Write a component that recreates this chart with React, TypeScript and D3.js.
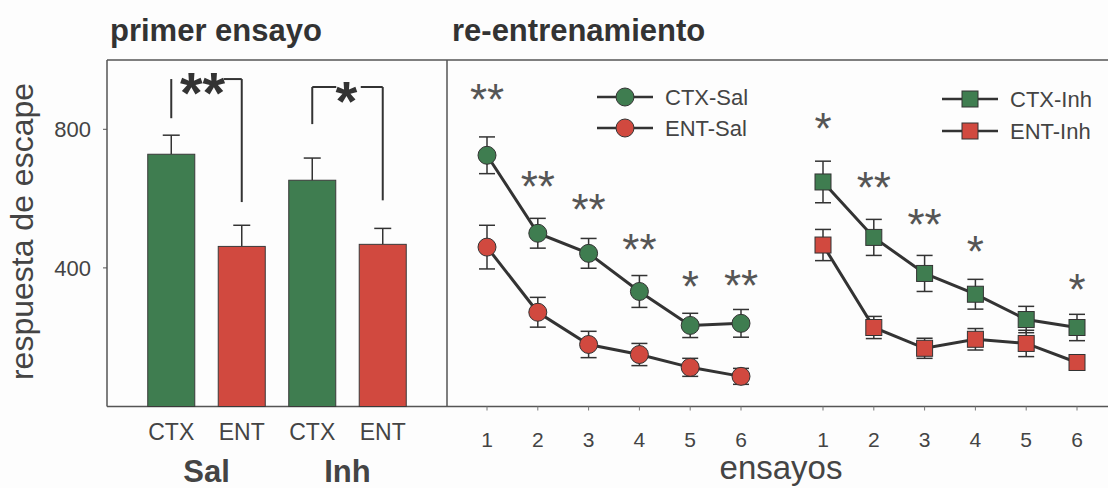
import React from "react";
import * as d3 from "d3";

// ---------- data ----------
const barKeys = ["CTX-Sal", "ENT-Sal", "CTX-Inh", "ENT-Inh"];
const barLabels = ["CTX", "ENT", "CTX", "ENT"];
const barValues = [728, 462, 653, 468];
const barErrors = [55, 61, 64, 46];
const barGroups = ["Sal", "Inh"];
const yTicks = [400, 800];

const ensayos = [1, 2, 3, 4, 5, 6];
const ctxSal = [725, 500, 442, 332, 234, 240];
const ctxSalErr = [53, 43, 43, 46, 35, 40];
const entSal = [460, 272, 179, 150, 113, 87];
const entSalErr = [63, 43, 38, 32, 26, 23];
const ctxInh = [648, 488, 384, 324, 251, 228];
const ctxInhErr = [60, 52, 52, 43, 38, 38];
const entInh = [466, 228, 168, 194, 182, 127];
const entInhErr = [45, 32, 29, 31, 38, 20];

const starsSal = [
  { t: 1, label: "**", at: 913 },
  { t: 2, label: "**", at: 662 },
  { t: 3, label: "**", at: 595 },
  { t: 4, label: "**", at: 480 },
  { t: 5, label: "*", at: 373 },
  { t: 6, label: "**", at: 377 },
];
const starsInh = [
  { t: 1, label: "*", at: 830 },
  { t: 2, label: "**", at: 659 },
  { t: 3, label: "**", at: 552 },
  { t: 4, label: "*", at: 474 },
  { t: 6, label: "*", at: 364 },
];

const brackets = [
  { a: "CTX-Sal", b: "ENT-Sal", label: "**", top: 945, aEnd: 832, bEnd: 590, gapL: 6, gapR: 18 },
  { a: "CTX-Inh", b: "ENT-Inh", label: "*", top: 922, aEnd: 815, bEnd: 595, gapL: 24, gapR: 22 },
];

// ---------- style ----------
const GREEN = "#3f7d50";
const RED = "#d1493f";
const DARK = "#333333";
const TXT = "#444444";
const FONT = "'Liberation Sans', Arial, Helvetica, sans-serif";

export default function App() {
  const W = 1108;
  const H = 488;
  const left = 107;
  const divider = 447;
  const right = 1108;
  const y = d3.scaleLinear().domain([0, 1000]).range([406.5, 60]);
  const xb = d3
    .scaleBand<string>()
    .domain(barKeys)
    .range([left, divider])
    .paddingInner(0.333)
    .paddingOuter(0.578);
  const bw = xb.bandwidth();
  const cx = (k: string) => (xb(k) as number) + bw / 2;

  const xSal = d3.scaleLinear().domain([1, 6]).range([487, 741]);
  const xInh = d3.scaleLinear().domain([1, 6]).range([823, 1077]);

  const mkPts = (vals: number[], errs: number[]) =>
    ensayos.map((t, i) => ({ t, v: vals[i], e: errs[i] }));

  const series = [
    { name: "CTX-Sal", pts: mkPts(ctxSal, ctxSalErr), x: xSal, color: GREEN, shape: "circle" },
    { name: "ENT-Sal", pts: mkPts(entSal, entSalErr), x: xSal, color: RED, shape: "circle" },
    { name: "CTX-Inh", pts: mkPts(ctxInh, ctxInhErr), x: xInh, color: GREEN, shape: "square" },
    { name: "ENT-Inh", pts: mkPts(entInh, entInhErr), x: xInh, color: RED, shape: "square" },
  ];

  const R = 9;
  const S = 16;
  const cap = 8;

  const marker = (shape: string, x: number, yy: number, color: string, key: string) =>
    shape === "circle" ? (
      <circle key={key} cx={x} cy={yy} r={R} fill={color} stroke={DARK} strokeWidth={1} />
    ) : (
      <rect key={key} x={x - S / 2} y={yy - S / 2} width={S} height={S} fill={color} stroke={DARK} strokeWidth={1} />
    );

  const starY = (at: number, fs: number, k = 0.57) => y(at) + fs * k;

  const legends = [
    { name: "CTX-Sal", color: GREEN, shape: "circle", x: 597, yy: 97 },
    { name: "ENT-Sal", color: RED, shape: "circle", x: 597, yy: 128 },
    { name: "CTX-Inh", color: GREEN, shape: "square", x: 942, yy: 99 },
    { name: "ENT-Inh", color: RED, shape: "square", x: 942, yy: 131 },
  ];

  return (
    <svg
      width={W}
      height={H}
      viewBox={`0 0 ${W} ${H}`}
      style={{ position: "absolute", left: 0, top: 0, background: "#fff" }}
      fontFamily={FONT}
    >
      <rect x={0} y={0} width={W} height={H} fill="#fdfdfd" />
      {/* titles */}
      <text x={110} y={40.5} fontSize={31} fontWeight="bold" fill={DARK}>
        primer ensayo
      </text>
      <text x={452} y={40.5} fontSize={31} fontWeight="bold" fill={DARK}>
        re-entrenamiento
      </text>

      {/* y label */}
      <text
        transform={`translate(33,231.5) rotate(-90)`}
        textAnchor="middle"
        fontSize={32}
        fill={TXT}
      >
        respuesta de escape
      </text>

      {/* frame */}
      <g stroke="#555" strokeWidth={1.5} fill="none">
        <line x1={left} x2={right} y1={y(1000)} y2={y(1000)} />
        <line x1={left} x2={right} y1={y(0)} y2={y(0)} />
        <line x1={left} x2={left} y1={y(1000)} y2={y(0)} />
        <line x1={divider} x2={divider} y1={y(1000)} y2={y(0)} />
      </g>

      {/* y ticks */}
      {yTicks.map((t) => (
        <g key={t}>
          <line x1={left - 4} x2={left} y1={y(t)} y2={y(t)} stroke="#555" strokeWidth={1} />
          <text x={91} y={y(t) + 8} textAnchor="end" fontSize={22} fill={TXT}>
            {t}
          </text>
        </g>
      ))}

      {/* bars */}
      {barKeys.map((k, i) => {
        const c = cx(k);
        const top = y(barValues[i]);
        const et = y(barValues[i] + barErrors[i]);
        return (
          <g key={k}>
            <line x1={c} x2={c} y1={top} y2={et} stroke={DARK} strokeWidth={1.5} />
            <line x1={c - cap - 0.5} x2={c + cap + 0.5} y1={et} y2={et} stroke={DARK} strokeWidth={1.5} />
            <rect
              x={xb(k)}
              y={top}
              width={bw}
              height={y(0) - top}
              fill={i % 2 === 0 ? GREEN : RED}
              stroke="#3a3a3a"
              strokeWidth={1}
            />
            <text x={c} y={440} textAnchor="middle" fontSize={23} fill={TXT}>
              {barLabels[i]}
            </text>
          </g>
        );
      })}
      {barGroups.map((g, i) => {
        const c = (cx(barKeys[i * 2]) + cx(barKeys[i * 2 + 1])) / 2;
        return (
          <text key={g} x={c} y={482} textAnchor="middle" fontSize={31} fontWeight="bold" fill={TXT}>
            {g}
          </text>
        );
      })}

      {/* significance brackets */}
      {brackets.map((b) => {
        const xa = cx(b.a);
        const xbb = cx(b.b);
        const yt = y(b.top);
        const mid = (xa + xbb) / 2;
        const fs = b.label === "**" ? 58 : 56;
        return (
          <g key={b.a}>
            <g stroke={DARK} strokeWidth={2} fill="none">
              <line x1={xa} x2={xa} y1={yt} y2={y(b.aEnd)} />
              {b.gapL > 8 && <line x1={xa} x2={xa + b.gapL} y1={yt} y2={yt} />}
              <line x1={xbb - b.gapR} x2={xbb} y1={yt} y2={yt} />
              <line x1={xbb} x2={xbb} y1={yt} y2={y(b.bEnd)} />
            </g>
            <text
              x={mid - (b.label === "**" ? 4 : 1)}
              y={yt + fs * 0.55 + 2}
              textAnchor="middle"
              fontSize={fs}
              fontWeight="bold"
              fill={DARK}
            >
              {b.label}
            </text>
          </g>
        );
      })}

      {/* x ticks right panel */}
      {[xSal, xInh].map((xs, j) =>
        ensayos.map((t) => (
          <g key={`${j}-${t}`}>
            <line x1={xs(t)} x2={xs(t)} y1={y(0)} y2={y(0) + 4} stroke="#777" strokeWidth={1} />
            <text x={xs(t)} y={447} textAnchor="middle" fontSize={21} fill={TXT}>
              {t}
            </text>
          </g>
        ))
      )}
      <text x={781} y={479} textAnchor="middle" fontSize={33} fill={TXT}>
        ensayos
      </text>

      {/* series */}
      {series.map((s) => {
        const line = d3
          .line<{ t: number; v: number }>()
          .x((d) => s.x(d.t))
          .y((d) => y(d.v));
        return (
          <g key={s.name}>
            <path d={line(s.pts) as string} fill="none" stroke={DARK} strokeWidth={3} />
            {s.pts.map((p) => {
              const px = s.x(p.t);
              return (
                <g key={p.t} stroke={DARK} strokeWidth={1.5}>
                  <line x1={px} x2={px} y1={y(p.v - p.e)} y2={y(p.v + p.e)} />
                  <line x1={px - cap} x2={px + cap} y1={y(p.v + p.e)} y2={y(p.v + p.e)} />
                  <line x1={px - cap} x2={px + cap} y1={y(p.v - p.e)} y2={y(p.v - p.e)} />
                </g>
              );
            })}
            {s.pts.map((p) => marker(s.shape, s.x(p.t), y(p.v), s.color, `m${p.t}`))}
          </g>
        );
      })}

      {/* stars right panel */}
      {starsSal.map((s) => (
        <text key={`s${s.t}`} x={xSal(s.t)} y={starY(s.at, 44)} textAnchor="middle" fontSize={44} fill="#555">
          {s.label}
        </text>
      ))}
      {starsInh.map((s) => (
        <text key={`i${s.t}`} x={xInh(s.t)} y={starY(s.at, 44)} textAnchor="middle" fontSize={44} fill="#555">
          {s.label}
        </text>
      ))}

      {/* legends */}
      {legends.map((l) => (
        <g key={l.name}>
          <line x1={l.x} x2={l.x + 56} y1={l.yy} y2={l.yy} stroke={DARK} strokeWidth={2.5} />
          {marker(l.shape, l.x + 28, l.yy, l.color, "lm")}
          <text x={l.x + 68} y={l.yy + 8} fontSize={22} fill={TXT}>
            {l.name}
          </text>
        </g>
      ))}
    </svg>
  );
}
